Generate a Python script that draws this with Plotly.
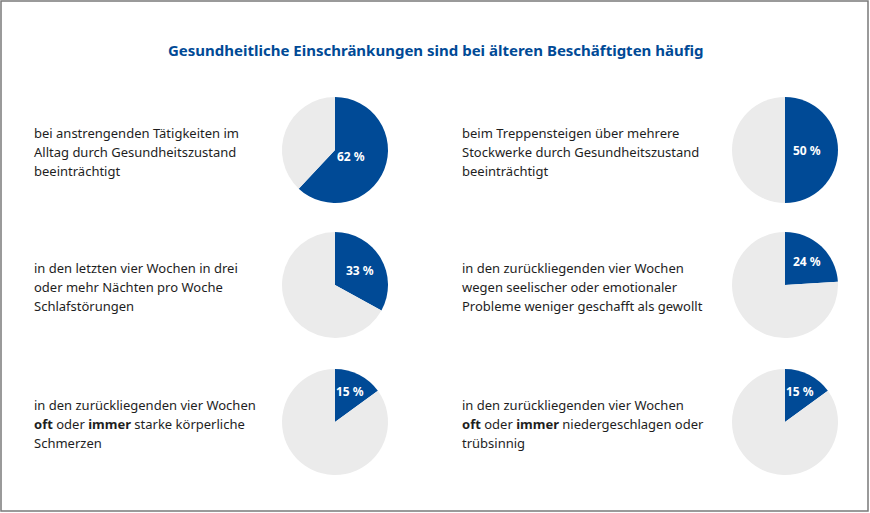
import math
import plotly.graph_objects as go

title = "Gesundheitliche Einschränkungen sind bei älteren Beschäftigten häufig"
descriptions = [
    ["bei anstrengenden Tätigkeiten im", "Alltag durch Gesundheitszustand", "beeinträchtigt"],
    ["beim Treppensteigen über mehrere", "Stockwerke durch Gesundheitszustand", "beeinträchtigt"],
    ["in den letzten vier Wochen in drei", "oder mehr Nächten pro Woche", "Schlafstörungen"],
    ["in den zurückliegenden vier Wochen", "wegen seelischer oder emotionaler", "Probleme weniger geschafft als gewollt"],
    ["in den zurückliegenden vier Wochen", "<b>oft</b> oder <b>immer</b> starke körperliche", "Schmerzen"],
    ["in den zurückliegenden vier Wochen", "<b>oft</b> oder <b>immer</b> niedergeschlagen oder", "trübsinnig"],
]
shares = [62, 50, 33, 24, 15, 15]

BLUE = "#004a96"
GRAY = "#ebebeb"
TEXT = "#1e1e1e"
W, H = 870, 513
FONT = "Noto Sans"

# layout positions (pixels)
pie_cx = [335, 785]
row_cy = [150, 285, 422]
R = 53
text_x = [32, 460]
line_offsets = [-17, 2, 21]

fig = go.Figure()
for i, v in enumerate(shares):
    col, row = i % 2, i // 2
    cx, cy = pie_cx[col], row_cy[row]
    fig.add_trace(go.Pie(
        values=[v, 100 - v],
        labels=["ja", "nein"],
        sort=False,
        direction="clockwise",
        rotation=0,
        marker=dict(colors=[BLUE, GRAY], line=dict(width=0)),
        textinfo="none",
        showlegend=False,
        hoverinfo="skip",
        domain=dict(x=[(cx - R) / W, (cx + R) / W],
                    y=[(H - cy - R) / H, (H - cy + R) / H]),
    ))
    # label at the centroid of the blue sector (derived from the value)
    half = math.pi * v / 100.0
    rc = 2 * R * math.sin(half) / (3 * half)
    lx = cx + rc * math.sin(half)
    ly = cy - rc * math.cos(half)
    fig.add_annotation(
        x=lx / W, y=(H - ly) / H, xref="paper", yref="paper",
        xanchor="center", yanchor="middle", showarrow=False,
        text=f"<b>{v} %</b>",
        font=dict(family=FONT, size=12, color="white"),
    )
    for k, line in enumerate(descriptions[i]):
        fig.add_annotation(
            x=text_x[col] / W, y=(H - cy - line_offsets[k]) / H,
            xref="paper", yref="paper",
            xanchor="left", yanchor="middle", align="left", showarrow=False,
            text=line,
            font=dict(family=FONT, size=13, color=TEXT),
        )

fig.add_annotation(
    x=435 / W, y=(H - 50) / H, xref="paper", yref="paper",
    xanchor="center", yanchor="middle", showarrow=False,
    text=f"<b>{title}</b>",
    font=dict(family=FONT, size=15, color=BLUE),
)

fig.add_shape(type="rect", xref="paper", yref="paper",
              x0=1 / W, y0=2 / H, x1=(W - 2) / W, y1=1 - 1 / H,
              line=dict(color="#7a7a7a", width=1.5))

fig.update_layout(
    width=W, height=H,
    margin=dict(l=0, r=0, t=0, b=0),
    paper_bgcolor="white", plot_bgcolor="white",
)
fig.write_html("out.html", config={"displayModeBar": False},
               post_script="document.body.style.margin='0';")
